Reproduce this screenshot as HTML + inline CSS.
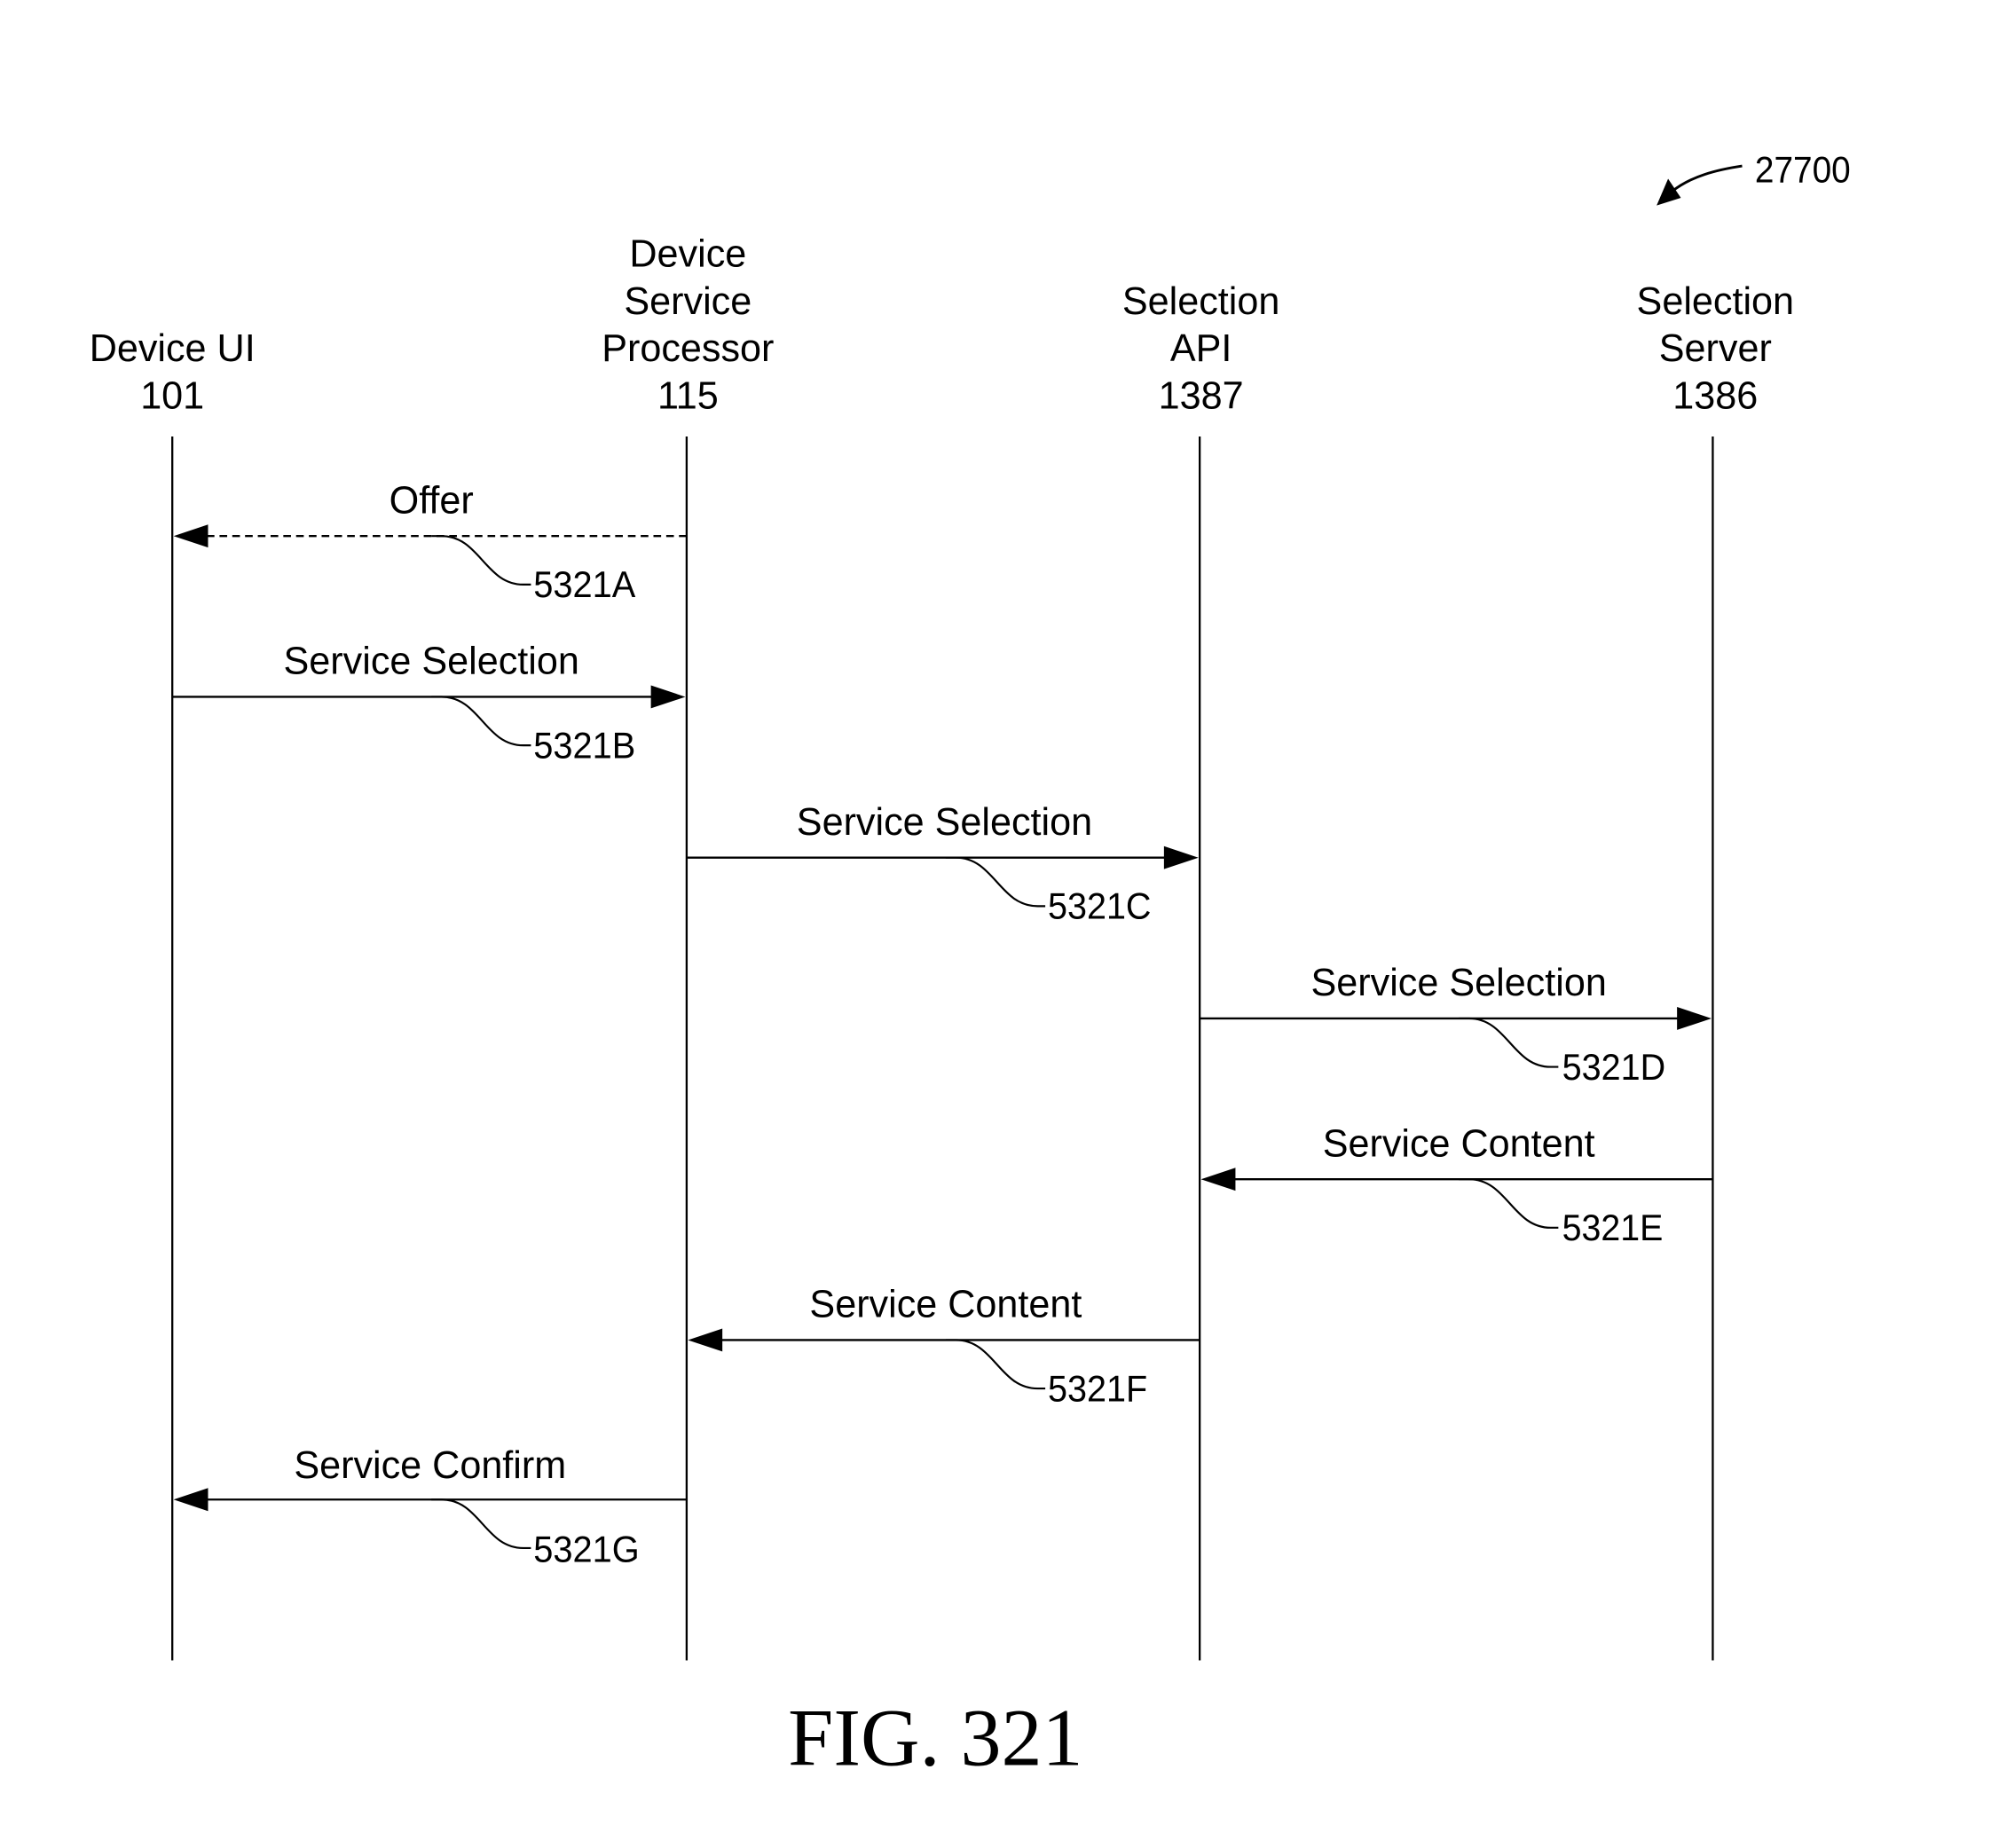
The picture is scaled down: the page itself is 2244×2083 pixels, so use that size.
<!DOCTYPE html>
<html><head><meta charset="utf-8"><style>
html,body{margin:0;padding:0;background:#fff;}
svg{display:block;}
text{font-family:"Liberation Sans",sans-serif;fill:#000;}
</style></head><body>
<svg width="2244" height="2083" viewBox="0 0 1560 1448" xmlns="http://www.w3.org/2000/svg">
<defs>
<g id="lead"><path d="M0,0 H8 C38,0 42,38 72,38 H78" fill="none" stroke="#000" stroke-width="1.5"/></g>
</defs>
<g font-size="30" text-anchor="middle">
<text x="135" y="283">Device UI</text><text x="135" y="320">101</text>
<text x="539" y="209">Device</text><text x="539" y="246">Service</text><text x="539" y="283">Processor</text><text x="539" y="320">115</text>
<text x="941" y="246">Selection</text><text x="941" y="283">API</text><text x="941" y="320">1387</text>
<text x="1344" y="246">Selection</text><text x="1344" y="283">Server</text><text x="1344" y="320">1386</text>
</g>
<text x="1375" y="143" font-size="29" textLength="75" lengthAdjust="spacingAndGlyphs">27700</text>
<path d="M1365,130 C1345,133 1325,138 1310,150" fill="none" stroke="#000" stroke-width="2"/>
<polygon points="1298,161 1307,140 1317,155" fill="#000"/>
<g stroke="#000" stroke-width="1.6">
<line x1="135" y1="342" x2="135" y2="1301"/>
<line x1="538" y1="342" x2="538" y2="1301"/>
<line x1="940" y1="342" x2="940" y2="1301"/>
<line x1="1342" y1="342" x2="1342" y2="1301"/>
<line x1="162" y1="420" x2="538" y2="420" stroke-dasharray="6,4"/>
<line x1="135" y1="546" x2="512" y2="546"/>
<line x1="538" y1="672" x2="914" y2="672"/>
<line x1="940" y1="798" x2="1316" y2="798"/>
<line x1="967" y1="924" x2="1342" y2="924"/>
<line x1="565" y1="1050" x2="940" y2="1050"/>
<line x1="162" y1="1175" x2="538" y2="1175"/>
</g>
<g fill="#000">
<polygon points="136,420 163,411 163,429"/>
<polygon points="537,546 510,537 510,555"/>
<polygon points="939,672 912,663 912,681"/>
<polygon points="1341,798 1314,789 1314,807"/>
<polygon points="941,924 968,915 968,933"/>
<polygon points="539,1050 566,1041 566,1059"/>
<polygon points="136,1175 163,1166 163,1184"/>
</g>
<use href="#lead" x="338" y="420"/><use href="#lead" x="338" y="546"/>
<use href="#lead" x="741" y="672"/><use href="#lead" x="1143" y="798"/>
<use href="#lead" x="1143" y="924"/><use href="#lead" x="741" y="1050"/>
<use href="#lead" x="338" y="1175"/>
<g font-size="30" text-anchor="middle">
<text x="338" y="402">Offer</text>
<text x="338" y="528">Service Selection</text>
<text x="740" y="654">Service Selection</text>
<text x="1143" y="780">Service Selection</text>
<text x="1143" y="906">Service Content</text>
<text x="741" y="1032">Service Content</text>
<text x="337" y="1158">Service Confirm</text>
</g>
<g font-size="29">
<text x="418" y="468" textLength="80" lengthAdjust="spacingAndGlyphs">5321A</text>
<text x="418" y="594" textLength="80" lengthAdjust="spacingAndGlyphs">5321B</text>
<text x="821" y="720" textLength="81" lengthAdjust="spacingAndGlyphs">5321C</text>
<text x="1224" y="846" textLength="81" lengthAdjust="spacingAndGlyphs">5321D</text>
<text x="1224" y="972" textLength="79" lengthAdjust="spacingAndGlyphs">5321E</text>
<text x="821" y="1098" textLength="78" lengthAdjust="spacingAndGlyphs">5321F</text>
<text x="418" y="1224" textLength="83" lengthAdjust="spacingAndGlyphs">5321G</text>
</g>
<text x="733" y="1383" font-size="64" text-anchor="middle" style='font-family:"Liberation Serif",serif'>FIG. 321</text>
</svg>
</body></html>
